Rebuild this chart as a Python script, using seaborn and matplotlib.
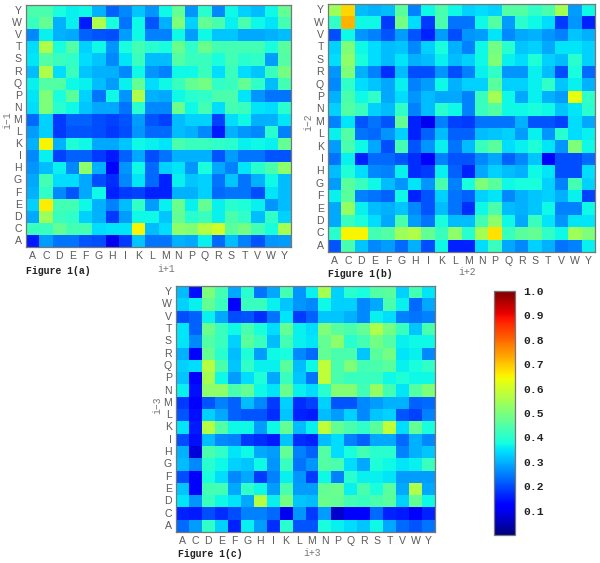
import numpy as np
import pandas as pd
import matplotlib
matplotlib.use('Agg')
import matplotlib.pyplot as plt
import seaborn as sns

residues_x = list('ACDEFGHIKLMNPQRSTVWY')
residues_y = list('YWVTSRQPNMLKIHGFEDCA')
cbar_ticks = [0.1, 0.2, 0.3, 0.4, 0.5, 0.6, 0.7, 0.8, 0.9, 1.0]

# values, rows from top (Y) to bottom (A)
vals_a = [
    [.44,.44,.38,.36,.37,.30,.22,.26,.32,.27,.37,.47,.27,.40,.26,.37,.33,.31,.37,.47],
    [.42,.47,.30,.36,.15,.56,.38,.24,.37,.21,.30,.50,.33,.47,.44,.36,.44,.37,.35,.43],
    [.26,.36,.30,.29,.22,.21,.20,.28,.37,.25,.25,.37,.28,.37,.32,.32,.29,.29,.30,.31],
    [.34,.56,.38,.45,.33,.37,.27,.38,.43,.40,.38,.48,.41,.48,.43,.43,.43,.43,.38,.46],
    [.35,.45,.42,.41,.34,.32,.26,.35,.42,.31,.31,.45,.42,.42,.38,.43,.40,.41,.28,.45],
    [.31,.56,.34,.42,.32,.30,.30,.26,.37,.27,.25,.37,.37,.42,.34,.42,.34,.32,.42,.49],
    [.36,.45,.45,.37,.36,.31,.28,.36,.47,.34,.37,.42,.47,.49,.41,.42,.47,.41,.31,.43],
    [.35,.50,.38,.46,.33,.24,.37,.27,.56,.30,.29,.37,.40,.41,.44,.44,.35,.27,.24,.24],
    [.34,.50,.40,.37,.32,.29,.29,.24,.40,.26,.26,.48,.37,.43,.34,.43,.42,.35,.34,.40],
    [.23,.33,.18,.22,.22,.20,.19,.21,.28,.21,.19,.31,.33,.33,.19,.34,.37,.30,.30,.35],
    [.28,.33,.18,.21,.21,.20,.18,.20,.27,.23,.23,.31,.30,.26,.15,.30,.27,.26,.40,.25],
    [.30,.65,.30,.39,.37,.29,.29,.32,.37,.36,.35,.44,.42,.42,.41,.40,.36,.37,.36,.47],
    [.26,.36,.19,.22,.22,.18,.15,.22,.29,.20,.24,.30,.30,.30,.21,.28,.24,.24,.21,.21],
    [.27,.31,.36,.26,.52,.30,.11,.27,.37,.23,.33,.35,.27,.38,.29,.25,.35,.40,.44,.52],
    [.29,.43,.34,.34,.29,.20,.17,.26,.35,.23,.16,.36,.32,.33,.24,.32,.24,.30,.37,.31],
    [.30,.41,.26,.21,.29,.37,.16,.18,.19,.16,.16,.30,.30,.33,.23,.24,.24,.20,.35,.31],
    [.33,.66,.43,.43,.37,.30,.25,.31,.41,.28,.36,.48,.36,.47,.36,.40,.39,.36,.27,.31],
    [.29,.54,.42,.41,.33,.30,.18,.28,.37,.37,.32,.47,.40,.42,.36,.44,.41,.31,.41,.33],
    [.42,.42,.47,.43,.43,.34,.35,.35,.65,.31,.34,.52,.51,.57,.60,.46,.49,.43,.38,.55],
    [.15,.28,.24,.24,.21,.20,.10,.18,.32,.24,.24,.30,.29,.36,.23,.31,.25,.21,.27,.28],
]
vals_b = [
    [.54,.68,.31,.30,.31,.46,.25,.37,.44,.37,.33,.34,.33,.45,.45,.41,.44,.55,.28,.37],
    [.41,.72,.37,.37,.18,.49,.34,.18,.44,.24,.24,.37,.45,.28,.40,.37,.34,.18,.27,.16],
    [.20,.37,.27,.25,.21,.28,.21,.16,.28,.20,.27,.28,.35,.26,.29,.30,.27,.25,.32,.30],
    [.33,.50,.37,.34,.31,.32,.26,.33,.38,.30,.25,.37,.49,.40,.32,.33,.29,.35,.35,.33],
    [.34,.52,.38,.34,.31,.35,.30,.31,.36,.31,.33,.37,.50,.36,.34,.39,.33,.31,.40,.33],
    [.27,.50,.30,.25,.17,.31,.20,.20,.27,.20,.25,.36,.41,.27,.27,.36,.31,.20,.38,.23],
    [.26,.41,.34,.32,.29,.36,.25,.28,.37,.30,.33,.33,.46,.33,.33,.36,.41,.32,.36,.30],
    [.30,.44,.37,.41,.29,.34,.27,.31,.29,.29,.25,.42,.55,.37,.29,.36,.30,.28,.63,.41],
    [.33,.45,.42,.33,.31,.41,.25,.31,.40,.37,.25,.42,.45,.37,.37,.38,.37,.32,.35,.40],
    [.25,.35,.21,.24,.21,.47,.16,.10,.25,.19,.18,.24,.24,.24,.30,.21,.21,.19,.34,.29],
    [.36,.45,.24,.23,.27,.33,.16,.22,.31,.22,.22,.31,.32,.33,.28,.36,.27,.40,.34,.36],
    [.28,.44,.37,.29,.20,.43,.21,.27,.36,.24,.31,.42,.46,.34,.36,.39,.35,.27,.50,.37],
    [.24,.36,.16,.23,.23,.21,.17,.12,.25,.21,.21,.26,.29,.22,.26,.32,.13,.20,.20,.23],
    [.31,.39,.34,.26,.25,.36,.17,.18,.36,.22,.16,.29,.33,.31,.30,.37,.35,.20,.20,.34],
    [.28,.46,.42,.37,.31,.27,.35,.27,.44,.25,.38,.50,.46,.37,.38,.38,.33,.25,.43,.33],
    [.36,.46,.25,.24,.22,.37,.16,.21,.33,.24,.22,.33,.35,.26,.30,.32,.33,.30,.36,.19],
    [.29,.53,.36,.31,.30,.32,.26,.21,.31,.24,.17,.37,.44,.31,.30,.32,.37,.25,.25,.37],
    [.29,.42,.38,.34,.29,.44,.28,.24,.38,.31,.31,.43,.52,.37,.29,.42,.35,.27,.35,.35],
    [.40,.65,.65,.43,.45,.54,.56,.47,.42,.52,.40,.55,.67,.42,.46,.47,.41,.37,.54,.50],
    [.21,.44,.32,.26,.28,.23,.30,.20,.37,.16,.16,.34,.42,.29,.26,.33,.30,.24,.25,.36],
]
vals_c = [
    [.31,.14,.50,.43,.29,.40,.24,.29,.43,.27,.36,.55,.33,.40,.38,.45,.46,.33,.43,.35],
    [.33,.36,.47,.42,.11,.42,.42,.36,.32,.27,.26,.37,.33,.33,.26,.29,.44,.36,.23,.29],
    [.20,.22,.36,.29,.20,.21,.17,.24,.35,.18,.22,.32,.32,.30,.26,.36,.34,.25,.24,.25],
    [.35,.22,.48,.42,.37,.44,.38,.34,.47,.36,.34,.50,.46,.44,.47,.56,.49,.42,.32,.44],
    [.35,.26,.45,.42,.33,.46,.42,.31,.43,.36,.35,.47,.52,.40,.43,.49,.45,.36,.37,.37],
    [.30,.11,.47,.40,.31,.39,.28,.37,.38,.26,.23,.47,.44,.44,.32,.46,.49,.35,.36,.26],
    [.33,.34,.57,.44,.32,.41,.36,.36,.46,.31,.37,.58,.44,.50,.43,.44,.46,.36,.38,.41],
    [.32,.11,.55,.37,.28,.34,.39,.29,.42,.32,.24,.58,.44,.42,.42,.42,.37,.39,.37,.37],
    [.36,.14,.52,.52,.44,.47,.37,.35,.48,.36,.34,.40,.51,.51,.43,.53,.43,.35,.45,.50],
    [.18,.11,.21,.25,.22,.31,.26,.18,.33,.17,.19,.33,.21,.21,.26,.28,.30,.30,.22,.23],
    [.21,.14,.33,.29,.22,.21,.21,.17,.32,.16,.15,.31,.28,.33,.26,.32,.33,.21,.19,.25],
    [.35,.15,.57,.45,.37,.37,.28,.37,.47,.31,.36,.58,.47,.44,.41,.46,.58,.34,.47,.38],
    [.20,.14,.31,.26,.25,.18,.17,.15,.32,.17,.16,.31,.34,.25,.22,.29,.29,.23,.30,.26],
    [.30,.08,.44,.41,.35,.37,.29,.28,.47,.25,.22,.45,.34,.38,.43,.40,.40,.25,.30,.32],
    [.31,.26,.40,.37,.33,.32,.37,.27,.42,.24,.27,.45,.44,.34,.29,.39,.37,.35,.36,.42],
    [.20,.12,.38,.34,.26,.29,.18,.25,.36,.27,.18,.37,.25,.40,.36,.36,.35,.28,.28,.28],
    [.32,.12,.43,.43,.29,.41,.37,.28,.44,.28,.28,.47,.48,.36,.44,.38,.46,.29,.56,.29],
    [.35,.27,.42,.37,.35,.29,.57,.36,.49,.32,.31,.48,.47,.43,.42,.44,.46,.33,.47,.37],
    [.16,.15,.20,.17,.20,.25,.25,.23,.10,.27,.18,.28,.07,.12,.11,.23,.16,.15,.12,.16],
    [.23,.28,.41,.33,.16,.36,.28,.17,.40,.21,.21,.38,.36,.34,.32,.37,.29,.23,.21,.24],
]

W, H = 600, 563
GREY = '#5a5a5a'
MONO = 'Liberation Mono'
SANS = 'Liberation Sans'

sns.set_theme(style='white')
fig = plt.figure(figsize=(W / 100, H / 100), dpi=100)


def box(x0, y0, x1, y1):
    # pixel box of the reference -> figure fractions
    return [x0 / W, 1 - y1 / H, (x1 - x0) / W, (y1 - y0) / H]


def panel(values, rect, xlab, xlab_xy, ylab, ylab_xy, fig_label, label_xy):
    ax = fig.add_axes(box(*rect))
    df = pd.DataFrame(values, index=residues_y, columns=residues_x)
    sns.heatmap(df, ax=ax, cmap='jet', vmin=0, vmax=1, cbar=False,
                xticklabels=residues_x, yticklabels=residues_y)
    ax.tick_params(axis='both', which='major', direction='in', length=2.5, width=0.7,
                   color='#333333', top=True, right=True, bottom=True, left=True,
                   labelsize=7.6, labelcolor=GREY, pad=3)
    ax.tick_params(axis='x', labelrotation=0)
    ax.tick_params(axis='y', labelrotation=0)
    for t in ax.get_xticklabels() + ax.get_yticklabels():
        t.set_family(SANS)
    for s in ax.spines.values():
        s.set_visible(True)
        s.set_color('#777777')
        s.set_linewidth(0.9)
    ax.set_xlabel('')
    ax.set_ylabel('')
    fig.text(xlab_xy[0] / W, 1 - xlab_xy[1] / H, xlab, ha='center', va='center',
             color='#777777', fontsize=7, family=MONO)
    fig.text(ylab_xy[0] / W, 1 - ylab_xy[1] / H, ylab, ha='center', va='center',
             rotation=90, color='#777777', fontsize=7, family=MONO)
    fig.text(label_xy[0] / W, 1 - label_xy[1] / H, fig_label, ha='left', va='center',
             fontsize=7.1, fontweight='bold', family=MONO, color='#222222')


panel(vals_a, (26, 5, 291, 247), 'i+1', (166, 269), 'i−1', (7, 120), 'Figure 1(a)', (26, 271))
panel(vals_b, (328, 4, 595, 252), 'i+2', (467, 272), 'i−2', (308, 122), 'Figure 1(b)', (328, 274))
panel(vals_c, (176, 286, 435, 532), 'i+3', (312, 553), 'i−3', (157, 405), 'Figure 1(c)', (178, 554))

# colorbar
cax = fig.add_axes(box(494, 291, 515, 535))
sm = plt.cm.ScalarMappable(norm=plt.Normalize(0, 1), cmap='jet')
cb = fig.colorbar(sm, cax=cax, ticks=cbar_ticks)
cb.ax.set_yticklabels(['%.1f' % t for t in cbar_ticks], family=MONO, fontweight='bold',
                      fontsize=8.2, color='#222222')
cb.ax.tick_params(direction='in', length=3, width=0.8, color='#333333', left=True,
                  right=True, pad=6)
cb.outline.set_edgecolor('#777777')
cb.outline.set_linewidth(0.9)

fig.savefig('out.png', dpi=100)
